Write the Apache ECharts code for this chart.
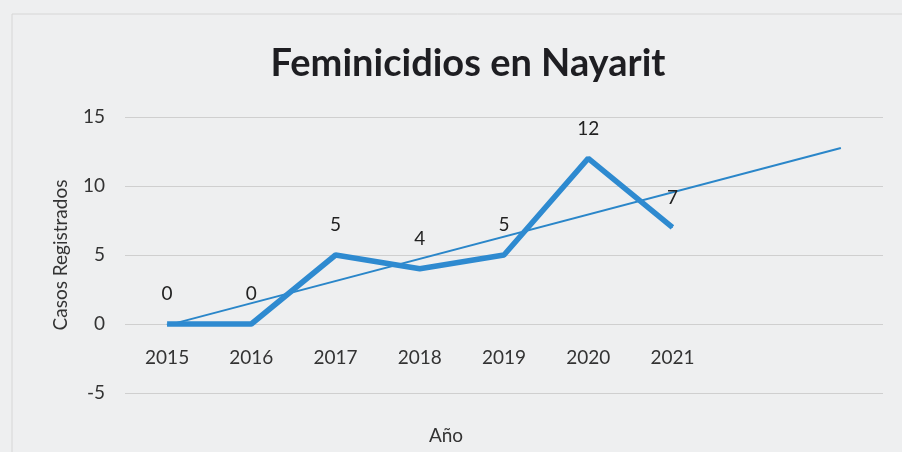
<!DOCTYPE html>
<html>
	<head>
		<meta charset="utf-8">
		<title></title>
		<script src="https://cdn.jsdelivr.net/npm/echarts@6/dist/echarts.min.js"></script>
	</head>
	<body style="margin:0;background:#eeeff0;">
		<div id="main" style="width: 902px;height:452px;"></div>
		<script type="text/javascript">
			// años (las dos últimas posiciones son para el pronóstico de la tendencia)
			var years = ['2015', '2016', '2017', '2018', '2019', '2020', '2021', '', ''];
			var casos = [0, 0, 5, 4, 5, 12, 7];
			// extremos de la línea de tendencia
			var tendencia = [[0, -0.1], [8, 12.75]];
			var yTicks = [-5, 0, 5, 10, 15];

			var myChart = echarts.init(document.getElementById('main'));

			var option = {
				backgroundColor: '#eeeff0',
				textStyle: { fontFamily: 'Lato' },
				// borde del área del gráfico
				graphic: [{
					type: 'rect',
					shape: { x: 12, y: 14, width: 960, height: 500 },
					style: { fill: 'none', stroke: '#d6d6d6', lineWidth: 1 },
					silent: true
				}],
				title: [
					{
						text: 'Feminicidios en Nayarit',
						left: 463,
						top: 40,
						textAlign: 'center',
						textStyle: { fontSize: 38, fontWeight: 'bold', color: '#1e1e22', fontFamily: 'Lato' }
					},
					{
						text: 'Año',
						left: 441,
						top: 421,
						textAlign: 'center',
						textStyle: { fontSize: 19, fontWeight: 'normal', color: '#333', fontFamily: 'Lato' }
					}
				],
				grid: { left: 125, right: 19, top: 117, bottom: 59 },
				xAxis: {
					type: 'category',
					data: years,
					offset: -69,   // el eje se dibuja sobre la línea del 0
					axisLine: { show: false },
					axisTick: { show: false },
					axisLabel: { color: '#333', fontSize: 19, margin: 24 }
				},
				yAxis: {
					type: 'value',
					min: yTicks[0],
					max: yTicks[yTicks.length - 1],
					interval: 5,
					name: 'Casos Registrados',
					nameLocation: 'middle',
					nameGap: 55,
					nameTextStyle: { color: '#333', fontSize: 19 },
					axisLabel: { color: '#333', fontSize: 19, margin: 20 },
					splitLine: { lineStyle: { color: '#cfcfcf' } }
				},
				series: [
					{
						name: 'Casos',
						type: 'line',
						data: casos,
						symbol: 'circle',
						symbolSize: 1,
						showSymbol: true,
						itemStyle: { color: '#2e8ad0' },
						lineStyle: { color: '#2e8ad0', width: 5.5 },
						label: { show: true, position: 'top', distance: 20, color: '#222', fontSize: 19 },
						z: 3
					},
					{
						name: 'Tendencia',
						type: 'line',
						data: tendencia,
						symbol: 'none',
						lineStyle: { color: '#2a86c9', width: 2 },
						z: 2
					}
				]
			};

			myChart.setOption(option);
		</script>
	</body>
</html>
